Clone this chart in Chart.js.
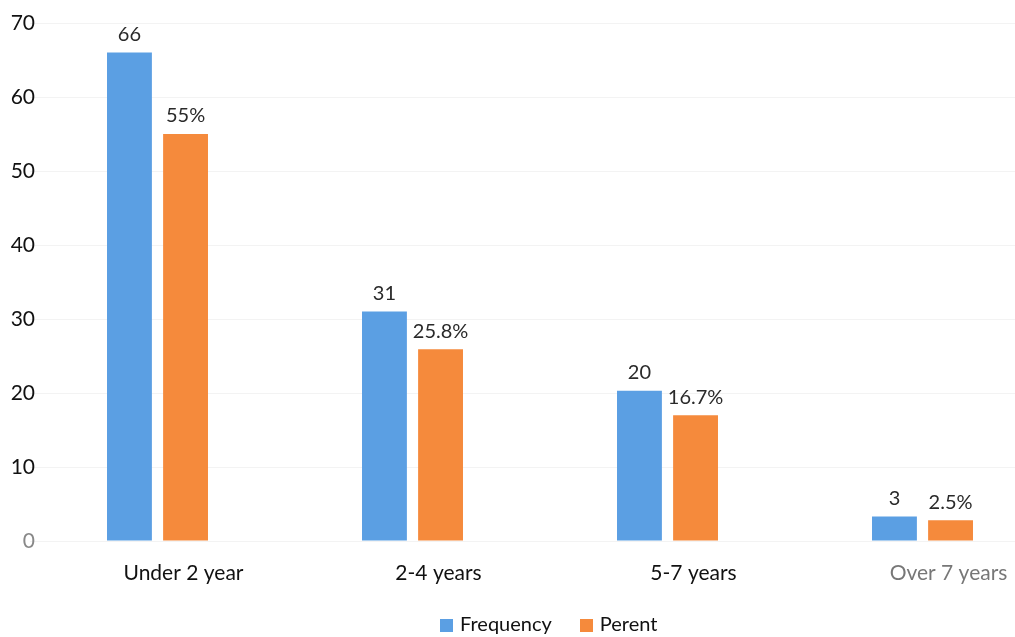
<!DOCTYPE html>
<html>
<head>
  <meta charset="UTF-8">
  <title>Years chart</title>
  <script src="https://cdn.jsdelivr.net/npm/chart.js"></script>
  <style>
    body { margin: 0; background: #fff; overflow: hidden; }
    #wrap { width: 1052px; height: 637px; position: relative; }
    #legend { position: absolute; left: 440px; top: 611px; font: 20px Lato, "Open Sans", sans-serif; color: #111; white-space: nowrap; }
    #legend span.box { display: inline-block; width: 13px; height: 13px; margin-right: 7px; vertical-align: -1px; }
    #legend span.item { margin-right: 28px; }
  </style>
</head>
<body>
  <div id="wrap">
    <canvas id="chart"></canvas>
    <div id="legend"></div>
  </div>

  <script>
    const categories = ['Under 2 year', '2-4 years', '5-7 years', 'Over 7 years'];
    const frequency = [66, 31, 20.3, 3.3];
    const percent = [55, 25.9, 17, 2.8];
    const freqLabels = ['66', '31', '20', '3'];
    const pctLabels = ['55%', '25.8%', '16.7%', '2.5%'];
    const yTicks = [0, 10, 20, 30, 40, 50, 60, 70];

    const font = 'Lato, "Open Sans", sans-serif';

    // draw the value text above each bar
    const valueLabels = {
      id: 'valueLabels',
      afterDatasetsDraw(chart) {
        const c = chart.ctx;
        c.save();
        c.font = '20px ' + font;
        c.fillStyle = '#2a2a2a';
        c.textAlign = 'center';
        c.textBaseline = 'bottom';
        const sets = [freqLabels, pctLabels];
        chart.data.datasets.forEach((ds, i) => {
          chart.getDatasetMeta(i).data.forEach((bar, j) => {
            c.fillText(sets[i][j], bar.x, bar.y - 8);
          });
        });
        c.restore();
      }
    };

    const chart = new Chart(document.getElementById('chart'), {
      type: 'bar',
      data: {
        labels: categories,
        datasets: [
          { label: 'Frequency', data: frequency, backgroundColor: '#5B9FE3' },
          { label: 'Perent', data: percent, backgroundColor: '#F58A3C' }
        ]
      },
      options: {
        responsive: true,
        maintainAspectRatio: false,
        animation: false,
        categoryPercentage: 0.44,
        barPercentage: 0.8,
        layout: { padding: { top: 23, right: 2, left: 0, bottom: 0 } },
        plugins: {
          tooltip: { enabled: false },
          legend: { display: false }
        },
        scales: {
          x: {
            grid: { display: false },
            border: { display: false },
            ticks: {
              padding: 12,
              labelOffset: 26,
              font: { family: font, size: 21 },
              color: ctx => ctx.index === 3 ? '#777' : '#111'
            },
            afterFit: axis => { axis.height = 96; }
          },
          y: {
            min: 0, max: 70,
            afterBuildTicks: axis => { axis.ticks = yTicks.map(v => ({ value: v })); },
            grid: { color: '#f3f3f3', drawTicks: false },
            border: { display: false },
            ticks: {
              padding: -5,
              font: { family: font, size: 21 },
              color: ctx => ctx.tick.value === 0 ? '#888' : '#111'
            },
            afterFit: axis => {
              axis.width = 30;
              // labels reach a few px into the plot, so don't clip them to the axis box
              axis._computeLabelArea = () => undefined;
            }
          }
        }
      },
      plugins: [valueLabels]
    });

    // legend built from the datasets
    document.getElementById('legend').innerHTML = chart.data.datasets.map(ds =>
      `<span class="item"><span class="box" style="background:${ds.backgroundColor}"></span>${ds.label}</span>`
    ).join('');
  </script>
</body>
</html>
